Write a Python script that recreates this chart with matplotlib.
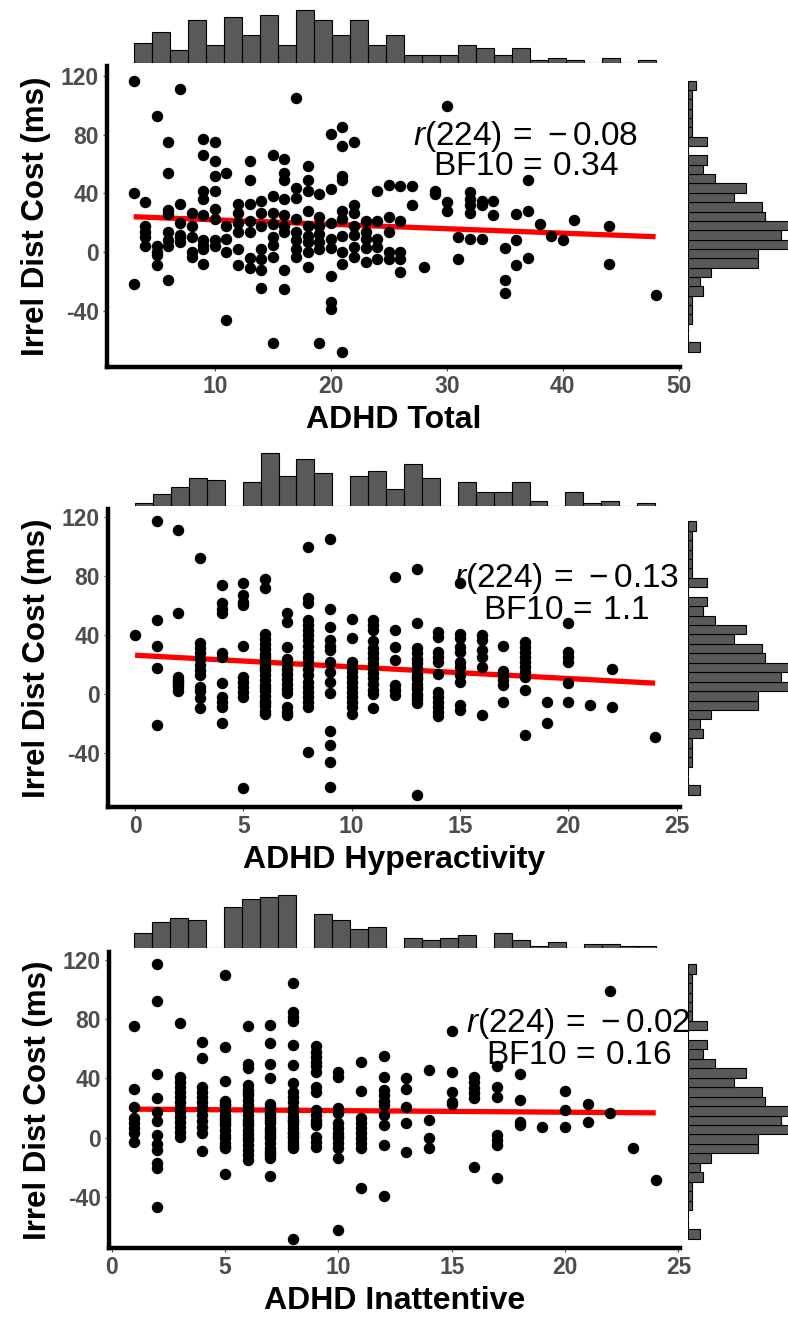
import numpy as np
import matplotlib
matplotlib.use("Agg")
import matplotlib.pyplot as plt

plt.rcParams['font.family'] = ['Liberation Sans', 'DejaVu Sans']
plt.rcParams['mathtext.fontset'] = 'custom'
plt.rcParams['mathtext.rm'] = 'Liberation Sans'
plt.rcParams['mathtext.it'] = 'Liberation Sans:italic'
plt.rcParams['axes.unicode_minus'] = False

# ---------------- data ----------------
# ADHD Total: x values and the Irrel Dist Cost values stacked at each x
total_x = [3, 4, 5, 6, 7, 8, 9, 10, 11, 12, 13, 14, 15, 16, 17, 18, 19, 20, 21, 22,
           23, 24, 25, 26, 27, 28, 29, 30, 31, 32, 33, 34, 35, 36, 37, 38, 39, 40,
           41, 44, 48]
total_y = [
    [117, 40, -21.5],
    [34.5, 18, 13.6, 10, 4.5],
    [93, 4.5, -2, -9, 0],
    [75, 54, 29, 26, 13.6, 4.5, -19, 8],
    [111.5, 33, 20, 10, 7, 12],
    [27, 18, 0, -3, 10],
    [77.5, 66, 42, 36, 25, 8, 2, -8, 5],
    [75, 62, 52, 42, 29.5, 22.7, 4.5, 8],
    [54, 18, 9, 0, -46.5],
    [33, 27, 13.6, 2, -9, 20],
    [62, 49, 33, 21.5, 13.6, -11, -4],
    [35, 27, 2, -4.5, -12.5, -24.5, 18],
    [66, 38.5, 27, 19, 10, -3.4, -62, 5],
    [63.5, 54, 49, 36, 18, 13.6, -12, -25, 25],
    [105, 44, 37, 22.7, 13.6, 2, -3.4, 8],
    [59, 49, 42, 18, 11, 7, 0, -10, 28],
    [39.7, 24, 12.5, 7, -62, 18, 2],
    [80.5, 43, 20, 9, -16, -34, -38.5, 3],
    [85.5, 72.5, 52, 49, 28, 22.7, 11, 0, -8, -68],
    [75, 32, 27, 18, 3.4, -3.4, 12],
    [21.5, 13.6, 9, -7, 3],
    [42, 21.5, 9, 3.4, -4.5],
    [46, 24, 13.6, -4.5, 0],
    [45, 21.5, 0, -4.5, -13.6],
    [45, 32],
    [-10],
    [42, 39.7],
    [100, 34, 28],
    [10, -4.5],
    [41, 36, 32, 27, 9],
    [35, 32, 9],
    [35, 25],
    [2.7, -19, -28],
    [26, 8, -8.6],
    [49, 28, -4],
    [19],
    [11],
    [8],
    [22],
    [17.5, -8],
    [-29.5],
]

# ADHD Hyperactivity
hyper_x = [0, 1, 2, 3, 4, 5, 6, 7, 8, 9, 10, 11, 12, 13, 14, 15, 16, 17, 18, 19,
           20, 21, 22, 24]
hyper_y = [
    [40],
    [117, 50, 33, 18, -21],
    [111, 55, 12, 8.6, 5, 2, 10, 7],
    [92, 34.5, 31, 27.7, 24, 20, 16.4, 13, 5, -2.7, -9.5, 2],
    [74, 61.5, 58, 54.7, 27.7, 25.5, 7.4, -1.6, -5, -8.3, -19.6],
    [75, 67, 62.6, 60.4, 33, 12, 8.6, 5, 1.8, -1.6, -63.5],
    [78, 71.6, 41, 37.5, 34, 30.5, 27, 23.5, 20, 16.5, 13, 9.5, 6, 2.5, -1,
     -4.5, -8, -11.5, -13, 18, 4, -6, 25],
    [54.7, 49, 32, 24, 20.6, 17.2, 13.8, 10.4, 7, 3.6, 0.7, -8.3, -11.7, -14],
    [99.8, 65, 61.5, 50, 46.6, 43.2, 39.8, 36.4, 33, 28.6, 25.2, 21.8, 17.3,
     12.8, 8.3, 4.9, 1.6, -1.8, -5.2, -8.3, -38.7],
    [105, 58, 45.7, 36.7, 33, 30, 22, 15, 0.7, -25, -34, -45.5, -62.4, 8],
    [51, 38, 22, 18.6, 15.2, 11.8, 8.4, 5, 1.6, -1.8, -5.2, -8.6, -13],
    [50, 47, 43.5, 31, 27.7, 24.3, 21, 17.6, 14.2, 10.8, 3, -9.5, 36, 7, 0],
    [79.5, 43.5, 32, 23, 6.3, 3, -0.5],
    [85, 48, 31, 27.7, 24, 21, 14, 10.6, 7.2, 3.8, 0.4, -3, -6, -68, 17.5, 12, -1, 5],
    [42, 39, 28.8, 25.5, 22, 14, 1.8, -1.6, -5, -8.4, -11.8, -15],
    [75, 41, 38, 32, 28.8, 22, 18.7, 13, 8.6, -7, -10.6],
    [40, 36.7, 30, 25.5, 18.7, -14],
    [33, 13, 9.5, 6.3, -5, 16],
    [35.6, 32.2, 28.8, 25.4, 22, 18.6, 15.2, 12, 3, -27.5],
    [-5, -19.6],
    [48, 28.8, 25.5, 22, 7.4, -5],
    [-7],
    [17, -8.3],
    [-28.6],
]

# ADHD Inattentive
inatt_x = [1, 2, 3, 4, 5, 6, 7, 8, 9, 10, 11, 12, 13, 14, 15, 16, 17, 18, 19, 20,
           21, 22, 23, 24]
inatt_y = [
    [75, 33, 21, 13, 9.7, 6.3, 3, -3],
    [117, 92, 42.7, 26.5, 11, -4, -8.3, -17, -20.7, -46.5, 17, 2],
    [77, 41, 37.8, 34, 31, 24, 21, 17.5, 10.8, 7.4, 4, 0.7, 14, 27.5],
    [64.7, 54, 34, 31, 27.6, 24, 15, 7.4, 3, -9, 19, 11, 21],
    [110, 61, 38, 25, 21.7, 18.4, 15, 11.7, 8.3, 5, -0.4, -3.8, -7, -24.7, 23,
     1.6, 13, -5.5, 10],
    [75, 50, 46.7, 35.5, 32.2, 28.8, 25.5, 22.2, 18.8, 15.5, 12.2, 8.8, 5.5, 2.2,
     -1.6, -8.3, -11.7, -15, 20, 10, 0, -5, 30],
    [76, 63.6, 50, 40, 23, 19.7, 16.4, 13, 9.7, 6.4, 3, -0.3, -3.7, -7, -10.3,
     -14, -25.6, 21, 11, 1, -9, 15, 5, -12],
    [104, 85, 81.6, 78.7, 62.5, 49, 36.6, 31, 27.6, 24, 17.5, 14, 11, 6.5, 3,
     -0.4, -5, -7, -68, 20, 9, 1, -3, 12, 4],
    [62, 58, 54.6, 51, 48, 44.5, 34, 31, 18.6, 15, 12, 8.5, 0.7, -2.7, -6, 10],
    [44.5, 41, 19.8, 16.4, 9.7, 6.3, 3, -0.4, -3.8, -7, -14, -62, 1],
    [51, 31.5, 13, 9.7, 6.3, 3, -0.4, -3.8, -7.2, -34],
    [55, 41, 32, 28.8, 25, 22, 8.5, -5, -39, 15],
    [40, 33, 21, 9.7, -9.4],
    [45.6, 12, -0.4, -7.2],
    [72, 44.5, 31, 22.5, 24],
    [41, 37.4, 33.8, 30.2, 26.5, -20],
    [48, 34.4, 27.6, 1.8, -1.6, -5, -27.4],
    [42.7, 25.4, 10.8, 8.5],
    [7.4],
    [31.5, 18.7, 7.4],
    [22.5, 10.8],
    [99, 16.4],
    [-6.7],
    [-28.5],
]

# marginal histogram counts (29 bins each)
total_hist = [8, 12, 5, 17, 7, 18, 11, 19, 7, 21, 17, 11, 17, 7, 11, 3, 3, 3, 7, 6,
              3, 6, 1, 2, 1, 0, 2, 0, 1]
hyper_hist = [1, 5, 8, 12, 11, 0, 10, 23, 13, 20, 14, 0, 13, 15, 7, 18, 12, 0, 10,
              6, 6, 10, 2, 0, 6, 1, 2, 0, 1]
inatt_hist = [7, 12, 14, 13, 0, 19, 23, 24, 25, 0, 16, 13, 9, 10, 0, 5, 4, 5, 6, 0,
              7, 4, 1, 3, 0, 2, 2, 1, 1]
# Irrel Dist Cost histogram, listed from lowest bin to highest bin
cost_hist = [3, 0, 0, 1, 1, 1, 4, 3, 6, 18, 18, 26, 24, 26, 20, 19, 12, 15, 7, 4,
             5, 0, 5, 1, 1, 1, 1, 1, 2]

x_labels = ['ADHD Total', 'ADHD Hyperactivity', 'ADHD Inattentive']
r_text = ['0.08', '0.13', '0.02']
bf_text = ['0.34', '1.1', '0.16']
y_label = 'Irrel Dist Cost (ms)'
y_ticks = [-40, 0, 40, 80, 120]

# ---------------- layout (pixels of the 788 x 1320 image) ----------------
W, H = 788.0, 1320.0
panels = [
    dict(xs=total_x, ys=total_y, hist=total_hist, main=(107, 66, 680, 367),
         top=(9, 63), xlim=(0.7, 50.1), ylim=(-78.4, 127),
         xticks=[10, 20, 30, 40, 50], txt=(36.8, 79, 58.5)),
    dict(xs=hyper_x, ys=hyper_y, hist=hyper_hist, main=(108, 509, 680, 807),
         top=(452, 505.5), xlim=(-1.25, 25.15), ylim=(-76.2, 125.3),
         xticks=[0, 5, 10, 15, 20, 25], txt=(19.9, 78, 56.5)),
    dict(xs=inatt_x, ys=inatt_y, hist=inatt_hist, main=(109, 952, 680, 1248),
         top=(894, 948.3), xlim=(-0.12, 25.07), ylim=(-74.4, 125.2),
         xticks=[0, 5, 10, 15, 20, 25], txt=(20.6, 77, 55.5)),
]

MINUS = '\u2212'

fig = plt.figure(figsize=(W / 100, H / 100), dpi=100)

bar_fill = '#595959'
tick_col = '#4D4D4D'

for i, p in enumerate(panels):
    l, t, r, b = p['main']
    X = np.repeat(p['xs'], [len(c) for c in p['ys']]).astype(float)
    Y = np.concatenate([np.array(c, dtype=float) for c in p['ys']])

    ax = fig.add_axes([l / W, 1 - b / H, (r - l) / W, (b - t) / H])
    ax.set_xlim(*p['xlim'])
    ax.set_ylim(*p['ylim'])

    # regression line
    coef = np.polyfit(X, Y, 1)
    xs = np.array([X.min(), X.max()])
    ax.plot(xs, np.polyval(coef, xs), color='red', lw=3.8, zorder=2,
            solid_capstyle='butt')

    ax.text(p['txt'][0], p['txt'][1],
            r'$r(224)\,=\,' + MINUS + r_text[i] + '$',
            ha='center', va='center', fontsize=24, zorder=3)
    ax.text(p['txt'][0], p['txt'][2],
            r'$\mathrm{BF10}\,=\,' + bf_text[i] + '$',
            ha='center', va='center', fontsize=24, zorder=3)

    ax.scatter(X, Y, s=68, c='black', linewidths=0, zorder=4)

    for side in ['top', 'right']:
        ax.spines[side].set_visible(False)
    for side in ['left', 'bottom']:
        ax.spines[side].set_linewidth(3.2)
        ax.spines[side].set_capstyle('projecting')
    ax.set_xticks(p['xticks'])
    ax.set_yticks(y_ticks)
    ax.tick_params(length=3, width=0.8, color=tick_col, pad=3,
                   labelsize=16.5, labelcolor=tick_col)
    for lab in ax.get_xticklabels() + ax.get_yticklabels():
        lab.set_fontweight('bold')
    ax.set_xlabel(x_labels[i], fontsize=23, fontweight='bold', labelpad=5)
    ax.set_ylabel(y_label, fontsize=22.5, fontweight='bold', labelpad=7)

    # top marginal histogram
    ht, hb = p['top']
    axt = fig.add_axes([l / W, 1 - hb / H, (r - l) / W, (hb - ht) / H])
    edges = np.linspace(X.min(), X.max(), len(p['hist']) + 1)
    axt.bar(edges[:-1], p['hist'], width=np.diff(edges), align='edge',
            color=bar_fill, edgecolor='black', linewidth=0.8)
    axt.set_xlim(*p['xlim'])
    axt.set_ylim(0, max(p['hist']) * 1.01)
    axt.axis('off')

    # right marginal histogram
    axr = fig.add_axes([688 / W, 1 - b / H, (W - 688) / W, (b - t) / H])
    yedges = np.linspace(Y.min(), Y.max(), len(cost_hist) + 1)
    axr.barh(yedges[:-1], cost_hist, height=np.diff(yedges), align='edge',
             color=bar_fill, edgecolor='black', linewidth=0.8)
    axr.set_ylim(*p['ylim'])
    axr.set_xlim(0, 25.85)
    axr.axis('off')

fig.savefig('out.png', dpi=100)
